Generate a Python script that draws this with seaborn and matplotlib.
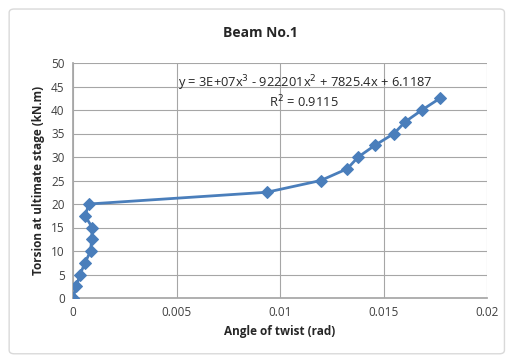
import matplotlib
matplotlib.use("Agg")
import matplotlib.pyplot as plt
from matplotlib.patches import FancyBboxPatch
import seaborn as sns
import pandas as pd

# values
twist = [0.0, 0.00016, 0.00034, 0.00058, 0.00085, 0.0009, 0.00093, 0.00058, 0.00077,
         0.00936, 0.01197, 0.01325, 0.01378, 0.01459, 0.01551, 0.01605, 0.01686, 0.01773]
torsion = [0, 2.5, 5, 7.5, 10, 12.5, 15, 17.5, 20,
           22.5, 25, 27.5, 30, 32.5, 35, 37.5, 40, 42.5]
x_ticks = [0, 0.005, 0.01, 0.015, 0.02]
x_tick_labels = ["0", "0.005", "0.01", "0.015", "0.02"]
y_ticks = list(range(0, 55, 5))

df = pd.DataFrame({"twist": twist, "torsion": torsion})

sns.set_theme(style="white")
plt.rcParams['font.family'] = ['Open Sans', 'DejaVu Sans']

fig = plt.figure(figsize=(5.08, 3.61), dpi=100)
# chart frame
frame = FancyBboxPatch((0.018, 0.02), 0.975, 0.955, boxstyle="round,pad=0,rounding_size=0.01",
                       transform=fig.transFigure, facecolor="white", edgecolor="#d9d9d9", lw=1.0,
                       zorder=-10)
fig.patches.append(frame)

ax = fig.add_axes([73 / 508, 1 - 298 / 361, 414 / 508, 235 / 361])
ax.patch.set_alpha(0)
blue = "#4a7ebb"
sns.lineplot(data=df, x="twist", y="torsion", sort=False, estimator=None, ax=ax, color=blue, lw=2,
             marker="D", markersize=6.5, markeredgecolor=blue, zorder=3)

ax.set_xlim(0, 0.02)
ax.set_ylim(0, 50)
ax.set_xticks(x_ticks)
ax.set_xticklabels(x_tick_labels)
ax.set_yticks(y_ticks)
ax.tick_params(labelsize=8.5, colors="#404040", length=0, pad=6)
ax.grid(True, color="#a6a6a6", lw=0.8)
for s in ax.spines.values():
    s.set_visible(False)
ax.spines['left'].set_visible(True)
ax.spines['left'].set_color("#a6a6a6")
ax.spines['bottom'].set_visible(True)
ax.spines['bottom'].set_color("#a6a6a6")

ax.set_xlabel("Angle of twist (rad)", fontsize=8.5, fontweight="bold", color="#262626", labelpad=4)
ax.set_ylabel("Torsion at ultimate stage (kN.m)", fontsize=8.5, fontweight="bold", color="#262626", labelpad=4)
fig.text(260 / 508, 1 - 33 / 361, "Beam No.1", ha="center", va="center", fontsize=10,
         fontweight="bold", color="#262626")

ax.text(0.01121, 45.7, "y = 3E+07x$^3$ - 922201x$^2$ + 7825.4x + 6.1187", ha="center", va="center",
        fontsize=9.3, color="#262626", zorder=4)
ax.text(0.01114, 41.7, "R$^2$ = 0.9115", ha="center", va="center", fontsize=9.3, color="#262626", zorder=4)

fig.savefig("out.png", dpi=100)
